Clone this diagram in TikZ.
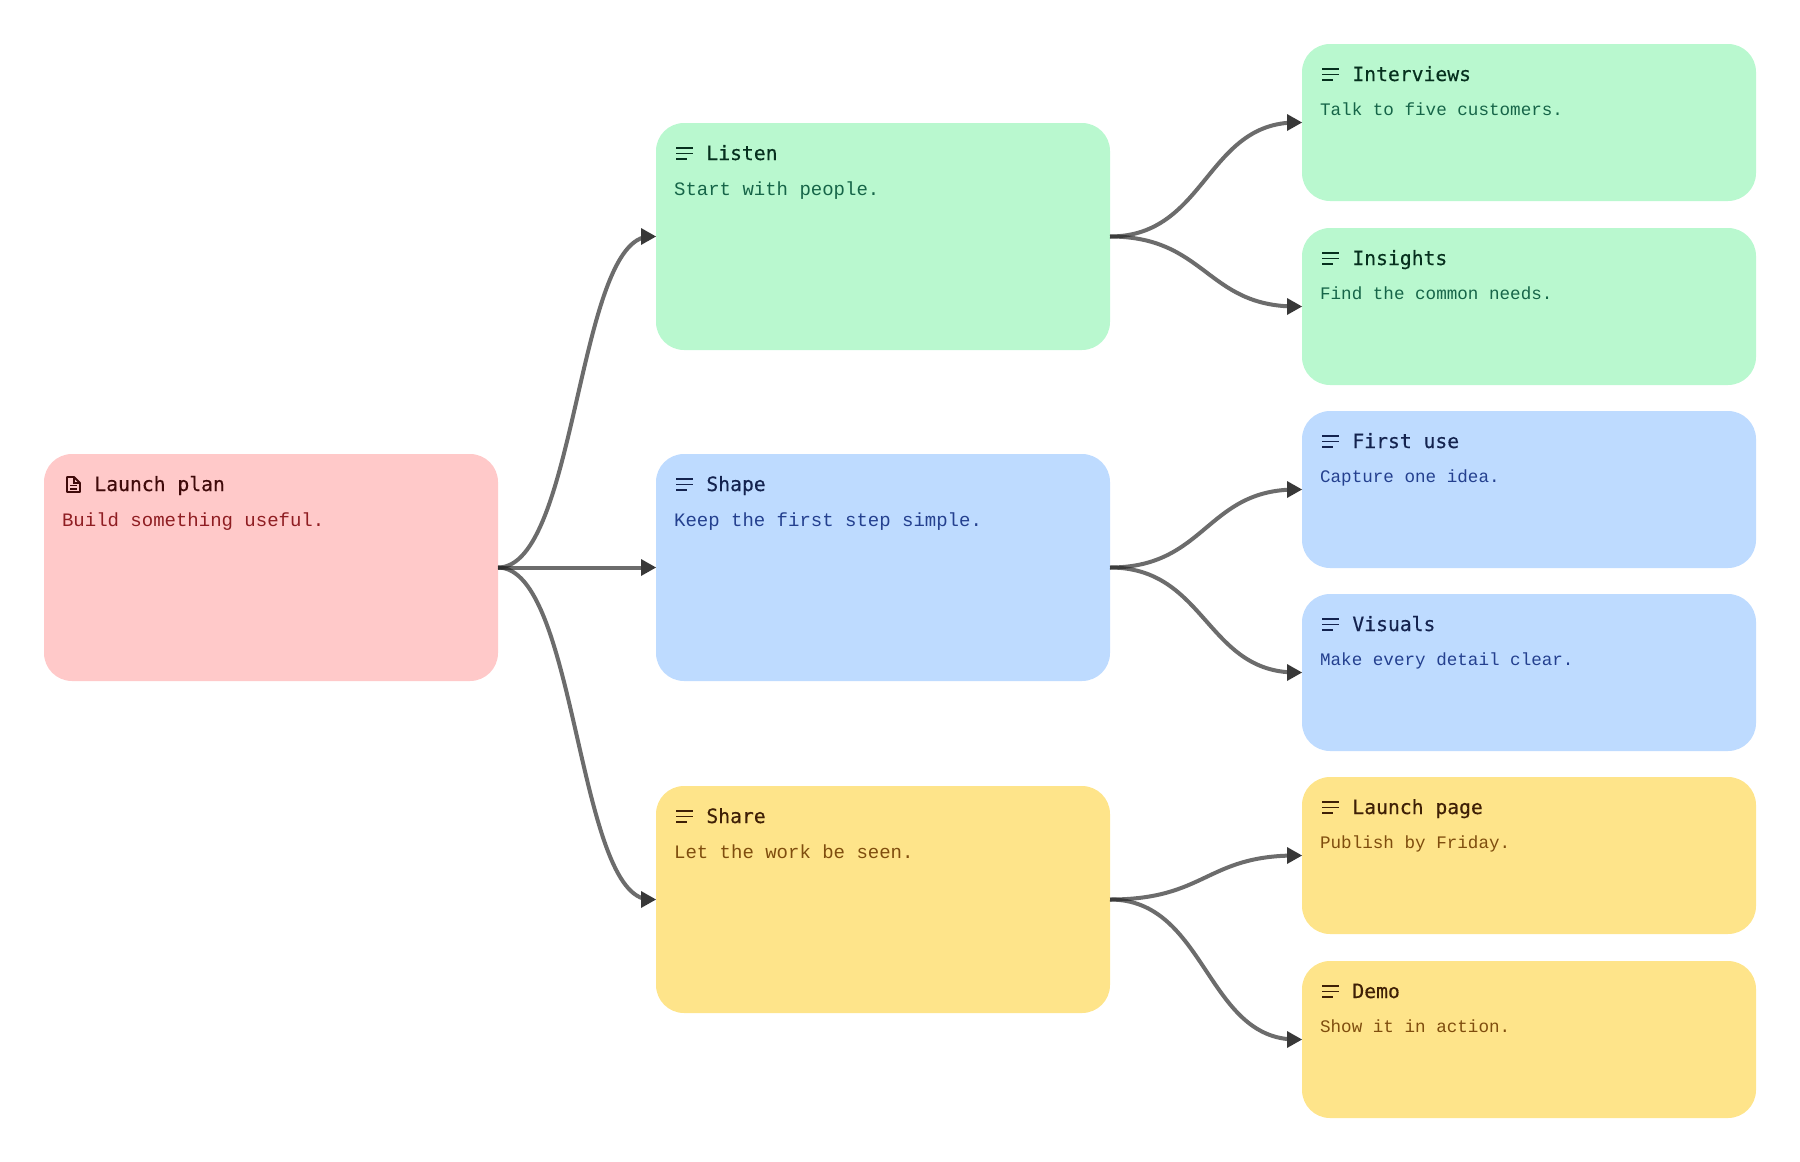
\documentclass[tikz,border=0pt]{standalone}
\usepackage{fontspec}
\setmainfont{Liberation Sans}
\newfontfamily\bodyfont{Liberation Mono}
\newfontfamily\titlefont[FakeBold=0.35]{DejaVu Sans Mono}
\usetikzlibrary{arrows.meta,calc}
\definecolor{redfill}{HTML}{FFC9C9}
\definecolor{greenfill}{HTML}{B9F8CF}
\definecolor{bluefill}{HTML}{BEDBFF}
\definecolor{yellowfill}{HTML}{FEE48A}
\definecolor{redtitle}{HTML}{3F0A0A}
\definecolor{greentitle}{HTML}{06301E}
\definecolor{bluetitle}{HTML}{14234F}
\definecolor{yellowtitle}{HTML}{3F2006}
\definecolor{redbody}{HTML}{8F1D22}
\definecolor{greenbody}{HTML}{166548}
\definecolor{bluebody}{HTML}{24408F}
\definecolor{yellowbody}{HTML}{7F4D0E}
\definecolor{linkcol}{HTML}{262626}
\definecolor{tipcol}{HTML}{383838}
\tikzset{
  cardbox/.style={rectangle,rounded corners=14pt,inner sep=0pt,outer sep=0pt,minimum width=227pt,anchor=north west},
  cardtitle/.style={anchor=base west,inner sep=0pt,font=\titlefont\fontsize{9.85}{12}\selectfont},
  cardbody/.style={anchor=base west,inner sep=0pt,font=\bodyfont\fontsize{9.5}{12}\selectfont},
  leafbody/.style={anchor=base west,inner sep=0pt,font=\bodyfont\fontsize{8.8}{12}\selectfont},
  link/.style={draw=linkcol,opacity=.68,line width=2pt},
  linktip/.style={draw=tipcol,fill=tipcol,line width=0pt,-{Triangle[length=7.5pt,width=8.5pt]}},
  iconline/.style={line width=.95pt},
}
% name, x px, y px, height px, colour stem, title, body, body style, body offset
\newcommand{\cardnode}[9]{%
  \node[cardbox,fill=#5fill,minimum height=#4*0.5pt] (#1) at (#2,#3) {};
  \node[cardtitle,text=#5title] (#1-t) at (#2+50,#3+37) {#6};
  \node[#8,text=#5body] (#1-b) at (#2+17.7,#3+#9) {#7};
}
\newcommand{\menuicon}[3]{%
  \draw[iconline,draw=#3title] (#1+20,#2+25) -- ++(17,0);
  \draw[iconline,draw=#3title] (#1+20,#2+30.5) -- ++(17,0);
  \draw[iconline,draw=#3title] (#1+20,#2+36) -- ++(11,0);
}
\newcommand{\linkcurve}[3]{%
  \draw[link] (#1.east) .. controls ($(#1.east)+(#3,0)$) and ($(#2.west)+(-#3,0)$) .. ($(#2.west)+(-6,0)$);
  \draw[linktip] ($(#2.west)+(-15,0)$) -- (#2.west);
}
\begin{document}
\begin{tikzpicture}[x=0.5pt,y=-0.5pt]
\useasboundingbox (0,0) rectangle (1800,1162);
\cardnode{root}{44}{454}{227}{red}{Launch plan}{Build something useful.}{cardbody}{72}
\cardnode{listen}{656}{123}{227}{green}{Listen}{Start with people.}{cardbody}{72}
\cardnode{shape}{656}{454}{227}{blue}{Shape}{Keep the first step simple.}{cardbody}{72}
\cardnode{share}{656}{786}{227}{yellow}{Share}{Let the work be seen.}{cardbody}{72}
\cardnode{interviews}{1302}{44}{157}{green}{Interviews}{Talk to five customers.}{leafbody}{71}
\cardnode{insights}{1302}{228}{157}{green}{Insights}{Find the common needs.}{leafbody}{71}
\cardnode{firstuse}{1302}{411}{157}{blue}{First use}{Capture one idea.}{leafbody}{71}
\cardnode{visuals}{1302}{594}{157}{blue}{Visuals}{Make every detail clear.}{leafbody}{71}
\cardnode{launchpage}{1302}{777}{157}{yellow}{Launch page}{Publish by Friday.}{leafbody}{71}
\cardnode{demo}{1302}{961}{157}{yellow}{Demo}{Show it in action.}{leafbody}{71}
\menuicon{656}{123}{green}
\menuicon{656}{454}{blue}
\menuicon{656}{786}{yellow}
\menuicon{1302}{44}{green}
\menuicon{1302}{228}{green}
\menuicon{1302}{411}{blue}
\menuicon{1302}{594}{blue}
\menuicon{1302}{777}{yellow}
\menuicon{1302}{961}{yellow}
% document icon
\draw[redtitle,line width=.95pt,line join=round]
  (67,477) -- (74,477) -- (80,483) -- (80,492) -- (67,492) -- cycle;
\draw[redtitle,line width=.7pt] (74,477) -- (74,483) -- (80,483);
\draw[redtitle,line width=.7pt] (70,485.5) -- (77,485.5) (70,488.8) -- (77,488.8);
% connectors
\linkcurve{root}{listen}{79}
\linkcurve{root}{shape}{79}
\linkcurve{root}{share}{79}
\linkcurve{listen}{interviews}{96}
\linkcurve{listen}{insights}{96}
\linkcurve{shape}{firstuse}{96}
\linkcurve{shape}{visuals}{96}
\linkcurve{share}{launchpage}{96}
\linkcurve{share}{demo}{96}
\end{tikzpicture}
\end{document}
